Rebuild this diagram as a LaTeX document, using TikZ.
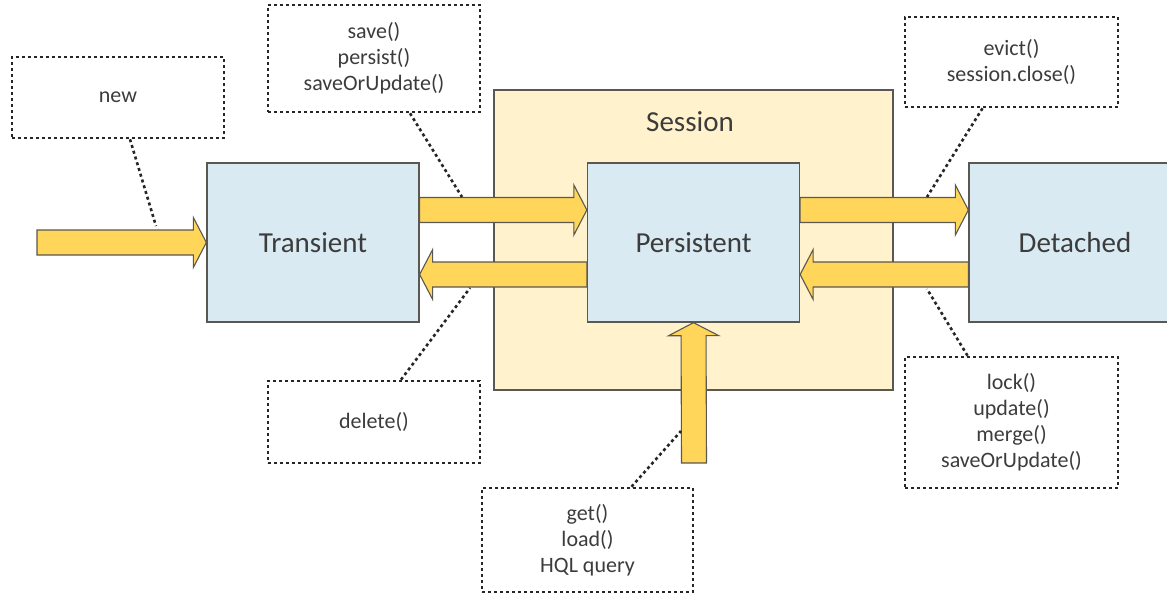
\documentclass[tikz,border=0pt]{standalone}
\usepackage{fontspec}
\setmainfont{Carlito}
\usepackage{tikz}
\usetikzlibrary{calc}

\definecolor{stateblue}{HTML}{DAEAF2}
\definecolor{sessionyellow}{HTML}{FFF2CC}
\definecolor{arrowyellow}{HTML}{FFD55A}
\definecolor{darkline}{HTML}{5A5850}
\definecolor{textgray}{HTML}{3C3C3C}

% fat block arrow from #1 to #2
\newcommand{\fatarrow}[2]{%
  \coordinate (fahead) at ($(#2)!13pt!(#1)$);
  \draw[fatarrow] ($(#1)!12.5pt!90:(#2)$) -- ($(fahead)!12.5pt!90:(#2)$)
    -- ($(fahead)!25pt!90:(#2)$) -- (#2) -- ($(fahead)!25pt!-90:(#2)$)
    -- ($(fahead)!12.5pt!-90:(#2)$) -- ($(#1)!12.5pt!-90:(#2)$) -- cycle;
}

\begin{document}
\begin{tikzpicture}[x=1pt, y=-1pt,
  state/.style={draw=darkline, line width=1.3pt, fill=stateblue, minimum width=212pt,
    minimum height=159pt, inner sep=0pt, text=textgray, font=\fontsize{29}{35}\selectfont},
  notebox/.style={draw=black!85, dash pattern=on 3pt off 3pt, line width=2.6pt,
    inner sep=0pt, align=center, text=textgray, font=\fontsize{22}{26}\selectfont},
  noteline/.style={draw=black!85, dash pattern=on 3pt off 3pt, line width=2.6pt},
  fatarrow/.style={draw=darkline, line width=1.1pt, fill=arrowyellow, line join=miter}]
\useasboundingbox (0,0) rectangle (1167,594);
\clip (0,0) rectangle (1167,594);

% session
\node[draw=darkline, line width=1.3pt, fill=sessionyellow, minimum width=399pt,
  minimum height=300pt, inner sep=0pt] (session) at (693.5,240) {};
\node[text=textgray, font=\fontsize{29}{35}\selectfont] (sessionlabel) at (690,122) {Session};

% states
\node[state] (trans) at (313,242.5) {Transient};
\node[state] (pers) at (693.5,242.5) {Persistent};
\node[state] (det) at (1075,242.5) {Detached};

% arrows
\coordinate (start) at (37,242.5);
\coordinate (t1) at ([yshift=32.5pt]trans.east);
\coordinate (p1) at ([yshift=32.5pt]pers.west);
\coordinate (t2) at ([yshift=-32pt]trans.east);
\coordinate (p2) at ([yshift=-32pt]pers.west);
\coordinate (p3) at ([yshift=32.5pt]pers.east);
\coordinate (d1) at ([yshift=32.5pt]det.west);
\coordinate (p4) at ([yshift=-32pt]pers.east);
\coordinate (d2) at ([yshift=-32pt]det.west);
\coordinate (query) at (694,463);
\fatarrow{start}{trans.west}
\fatarrow{t1}{p1}
\fatarrow{p2}{t2}
\fatarrow{p3}{d1}
\fatarrow{d2}{p4}
\fatarrow{query}{pers.south}

% notes
\node[notebox, minimum width=212pt, minimum height=81pt] (newnote) at (118,97.5) {new};
\node[notebox, minimum width=212pt, minimum height=107pt] (savenote) at (374,58.5) {save()\\persist()\\saveOrUpdate()};
\node[notebox, minimum width=213pt, minimum height=90pt] (evictnote) at (1011.5,62) {evict()\\session.close()};
\node[notebox, minimum width=212pt, minimum height=82pt] (deletenote) at (374,422) {delete()};
\node[notebox, minimum width=213pt, minimum height=131pt] (locknote) at (1011.5,422.5) {lock()\\update()\\merge()\\saveOrUpdate()};
\node[notebox, minimum width=211pt, minimum height=104pt] (getnote) at (587.5,540) {get()\\load()\\HQL query};

\coordinate (newend) at (156,226);
\coordinate (saveend) at (462,197);
\coordinate (deleteend) at (470,288);
\coordinate (evictend) at (927,197);
\coordinate (lockend) at (927,289);
\coordinate (getend) at (681,431);
\draw[noteline] ([xshift=12pt]newnote.south) -- (newend);
\draw[noteline] ([xshift=36pt]savenote.south) -- (saveend);
\draw[noteline] ([xshift=27pt]deletenote.north) -- (deleteend);
\draw[noteline] ([xshift=-29pt]evictnote.south) -- (evictend);
\draw[noteline] ([xshift=-44pt]locknote.north) -- (lockend);
\draw[noteline] ([xshift=44pt]getnote.north) -- (getend);
\end{tikzpicture}
\end{document}
